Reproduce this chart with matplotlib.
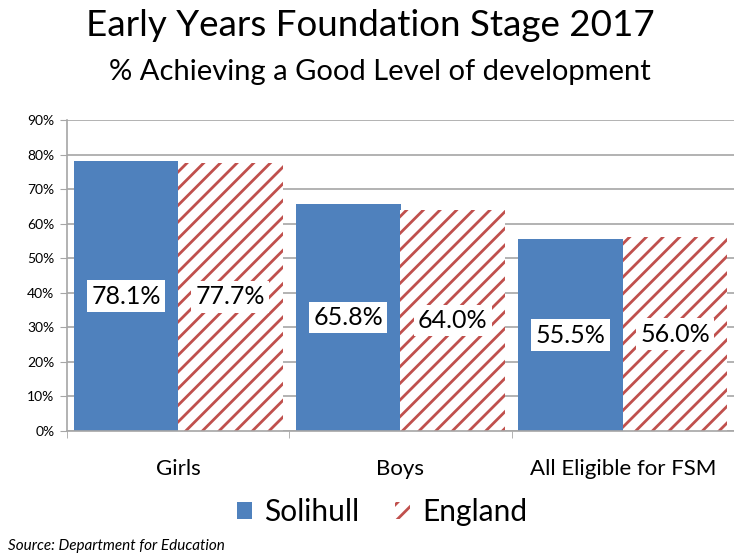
import matplotlib
matplotlib.use('Agg')
import matplotlib.pyplot as plt
import matplotlib.ticker as ticker
from matplotlib.patches import Patch
import numpy as np

categories = ['Girls', 'Boys', 'All Eligible for FSM']
solihull = [78.1, 65.8, 55.5]
england = [77.7, 64.0, 56.0]
yticks = [0, 10, 20, 30, 40, 50, 60, 70, 80, 90]

BLUE = '#4F81BD'
RED = '#C0504D'
GREY = '#A6A6A6'

plt.rcParams['font.family'] = ['Lato', 'DejaVu Sans']
plt.rcParams['hatch.linewidth'] = 2.0
plt.rcParams['hatch.color'] = RED

fig = plt.figure(figsize=(7.34, 5.53), dpi=100)
ax = fig.add_axes([67 / 734, 1 - 431 / 553, 667 / 734, 311 / 553])

x = np.arange(len(categories))
w = 0.47
b1 = ax.bar(x - w / 2, solihull, w, color=BLUE, zorder=2)
b2 = ax.bar(x + w / 2, england, w, color='white', hatch='//',
            edgecolor=RED, linewidth=0, zorder=2)

for bars, vals in ((b1, solihull), (b2, england)):
    for r, v in zip(bars, vals):
        ax.text(r.get_x() + r.get_width() / 2, v / 2, '%.1f%%' % v,
                ha='center', va='center', fontsize=18, zorder=3,
                bbox=dict(facecolor='white', edgecolor='none', pad=3))

ax.set_xlim(-0.5, 2.5)
ax.set_ylim(0, 90)
ax.set_yticks(yticks)
ax.yaxis.set_major_formatter(ticker.FuncFormatter(lambda y, pos: '%d%%' % y))
ax.set_xticks(x)
ax.set_xticklabels(categories, fontsize=16)
ax.set_xticks([-0.5, 0.5, 1.5, 2.5], minor=True)
ax.tick_params(axis='x', which='major', length=0, pad=20)
ax.tick_params(axis='x', which='minor', length=5, color=GREY, direction='out')
ax.tick_params(axis='y', length=5, color=GREY, labelsize=10, pad=4)

ax.yaxis.grid(True, color=GREY, linewidth=1.2, zorder=0)
ax.set_axisbelow(True)
for s in ('top', 'right'):
    ax.spines[s].set_visible(False)
for s in ('left', 'bottom'):
    ax.spines[s].set_color(GREY)
    ax.spines[s].set_linewidth(1.2)

fig.text(370 / 734, 1 - 26 / 553, 'Early Years Foundation Stage 2017',
         ha='center', va='center', fontsize=26.5)
fig.text(380 / 734, 1 - 72 / 553, '% Achieving a Good Level of development',
         ha='center', va='center', fontsize=21)

handles = [Patch(facecolor=BLUE, edgecolor='none', label='Solihull'),
           Patch(facecolor='white', hatch='//', edgecolor=RED, linewidth=0, label='England')]
fig.legend(handles=handles, loc='center', bbox_to_anchor=(382 / 734, 1 - 512 / 553),
           ncol=2, frameon=False, fontsize=21.5, handlelength=0.5, handleheight=0.5,
           handletextpad=0.4, columnspacing=1.2)

fig.text(8 / 734, 1 - 546 / 553, 'Source: Department for Education',
         ha='left', va='center', fontsize=11, style='italic')

fig.savefig('out.png', dpi=100)
